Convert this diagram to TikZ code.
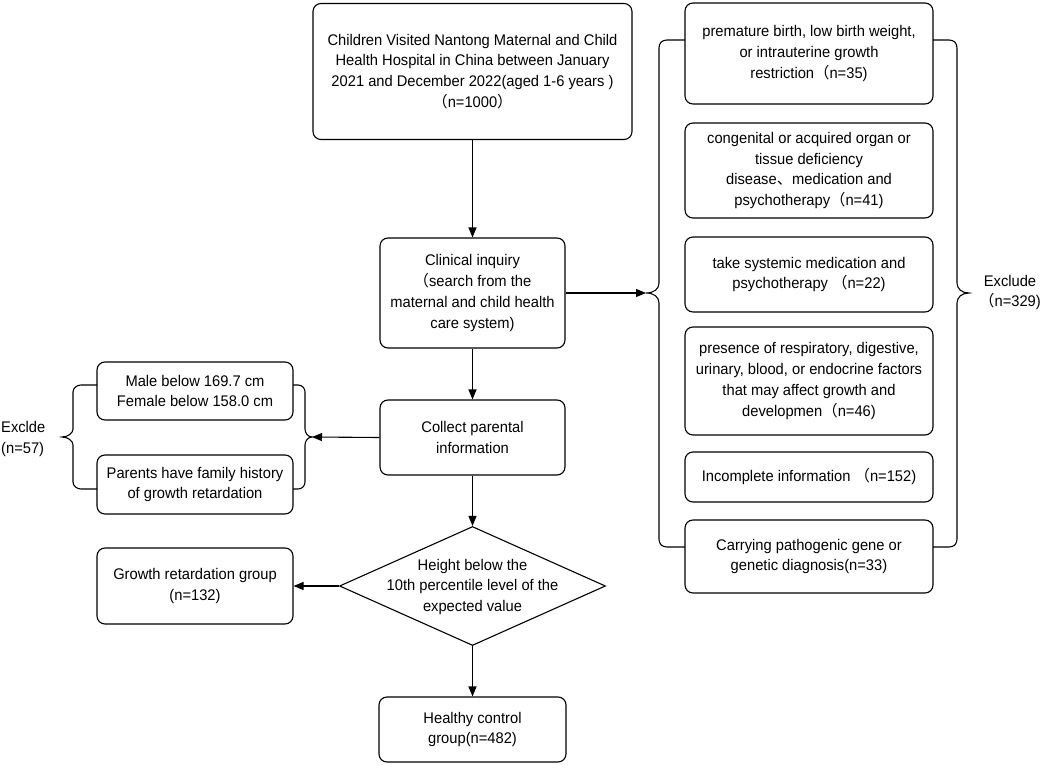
\documentclass[tikz,border=0pt]{standalone}
\usepackage{fontspec}
\setmainfont{Liberation Sans}[FakeStretch=0.955]
\newfontfamily\cjk{Noto Sans CJK SC}
\newcommand\fwlp{{\cjk （}}
\newcommand\fwrp{{\cjk ）}}
\newcommand\fwcm{{\cjk 、}}
\usetikzlibrary{shapes.geometric,arrows.meta}
\begin{document}
\begin{tikzpicture}[x=1pt,y=-1pt,
  txt/.style={font=\fontsize{15.4}{20.7}\selectfont, align=center, inner sep=0pt},
  box/.style={txt, draw, rounded corners=8pt, line width=1.1pt},
  arr/.style={-{Triangle[length=10pt,width=8pt]}, line width=1.1pt},
  brace/.style={line width=1.1pt}]
\useasboundingbox (0,0) rectangle (1042,765);
\fill[white] (0,0) rectangle (1042,765);

% central column
\node[box, minimum width=319pt, minimum height=136pt] (start) at (472.5,71.5)
  {Children Visited Nantong Maternal and Child\\Health Hospital in China between January\\2021 and December 2022(aged 1-6 years )\\\fwlp n=1000\fwrp};
\node[box, minimum width=185pt, minimum height=110pt] (clin) at (472.5,293)
  {Clinical inquiry\\\fwlp search from the\\maternal and child health\\care system)};
\node[box, minimum width=185pt, minimum height=75pt] (coll) at (472.5,437.5)
  {Collect parental\\information};
\node[draw, diamond, line width=1.1pt, minimum width=266pt, minimum height=119pt, inner sep=0pt] (dec) at (472.5,586) {};
\node[txt] (dectxt) at (472.5,587) {Height below the\\10th percentile level of the\\expected value};
\node[box, minimum width=196pt, minimum height=76pt] (grow) at (195,586)
  {Growth retardation group\\(n=132)};
\node[box, minimum width=187pt, minimum height=65pt] (healthy) at (472.5,729.5)
  {Healthy control\\group(n=482)};

% right exclusion boxes
\node[box, minimum width=248pt, minimum height=101pt] (r1) at (809,53.5)
  {premature birth, low birth weight,\\or intrauterine growth\\restriction\fwlp n=35)};
\node[box, minimum width=248pt, minimum height=95pt] (r2) at (809,170.5)
  {congenital or acquired organ or\\tissue deficiency\\disease\fwcm medication and\\psychotherapy\fwlp n=41)};
\node[box, minimum width=248pt, minimum height=75pt] (r3) at (809,274.5)
  {take systemic medication and\\psychotherapy \fwlp n=22)};
\node[box, minimum width=248pt, minimum height=108pt] (r4) at (809,381)
  {presence of respiratory, digestive,\\urinary, blood, or endocrine factors\\that may affect growth and\\developmen\fwlp n=46)};
\node[box, minimum width=248pt, minimum height=50pt] (r5) at (809,477)
  {Incomplete information \fwlp n=152)};
\node[box, minimum width=248pt, minimum height=73pt] (r6) at (809,556.5)
  {Carrying pathogenic gene or\\genetic diagnosis(n=33)};
\node[txt] (exr) at (1010,292.5) {Exclude\\\fwlp n=329)};

% left exclusion boxes
\node[box, minimum width=196pt, minimum height=58pt] (l1) at (195,391)
  {Male below 169.7 cm\\Female below 158.0 cm};
\node[box, minimum width=196pt, minimum height=59pt] (l2) at (195,484.5)
  {Parents have family history\\of growth retardation};
\node[txt, align=left, anchor=west] (exl) at (1,439) {Exclde\\(n=57)};

% brace tips
\coordinate (rbtip) at (646,293);
\coordinate (lbtip) at (312,437);

% braces
\draw[brace] (685,40) -- (667,40) .. controls (662,40) and (659,43) .. (659,48)
  -- (659,283) .. controls (659,289) and (654,293) .. (646,293)
  .. controls (654,293) and (659,297) .. (659,303)
  -- (659,539) .. controls (659,544) and (662,547) .. (667,547) -- (685,547);
\draw[brace] (933,40) -- (949,40) .. controls (954,40) and (957,43) .. (957,48)
  -- (957,283) .. controls (957,289) and (962,293) .. (969,293)
  .. controls (962,293) and (957,297) .. (957,303)
  -- (957,539) .. controls (957,544) and (954,547) .. (949,547) -- (933,547);
\draw[brace] (293,385) -- (298,385) .. controls (302,385) and (305,388) .. (305,392)
  -- (305,429) .. controls (305,433) and (308,437) .. (312,437)
  .. controls (308,437) and (305,441) .. (305,445)
  -- (305,482) .. controls (305,486) and (302,489) .. (298,489) -- (293,489);
\draw[brace] (97,385) -- (81,385) .. controls (77,385) and (73,388) .. (73,392)
  -- (73,429) .. controls (73,433) and (68,437) .. (62,437)
  .. controls (68,437) and (73,441) .. (73,445)
  -- (73,482) .. controls (73,486) and (77,489) .. (81,489) -- (97,489);

% connectors
\draw[arr] (start.south) -- (clin.north);
\draw[arr] (clin.east) -- (rbtip);
\draw[arr] (clin.south) -- (coll.north);
\draw[arr] (coll.west) -- (lbtip);
\draw[arr] (coll.south) -- (dec.north);
\draw[arr] (dec.west) -- (grow.east);
\draw[arr] (dec.south) -- (healthy.north);
\end{tikzpicture}
\end{document}
